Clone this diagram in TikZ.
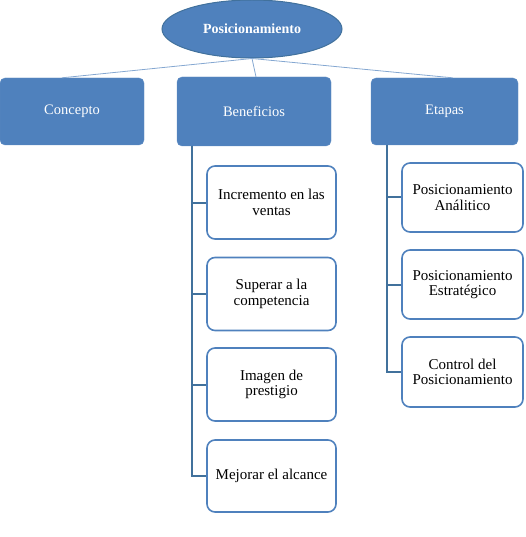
\documentclass[tikz,border=0pt]{standalone}
\usepackage{fontspec}
\setmainfont{Liberation Serif}
\usetikzlibrary{shapes.geometric}
\definecolor{officeblue}{HTML}{4F81BD}
\definecolor{trunkblue}{HTML}{41719C}

\begin{document}
\begin{tikzpicture}[x=1pt,y=-1pt,
 every node/.style={font=\fontsize{14.5}{15.5}\selectfont,align=center},
 head/.style={ellipse,draw=trunkblue,line width=1pt,fill=officeblue,text=white,minimum width=180,minimum height=58,font=\fontsize{14}{15}\selectfont\bfseries},
 topbox/.style={draw=officeblue!90!white,fill=officeblue,text=white,rounded corners=5pt,minimum height=67},
 sub/.style={draw=officeblue,line width=1.6pt,fill=white,rounded corners=8pt,minimum height=71,font=\fontsize{15}{15.5}\selectfont},
 link/.style={draw=officeblue!70!white,line width=0.8pt},
 trunk/.style={draw=trunkblue,line width=2pt}]
\useasboundingbox (0,0) rectangle (526,537);
\node[head] (pos) at (252,29) {Posicionamiento};
\node[topbox,minimum width=144] (con) at (72,111.5) {Concepto};
\node[topbox,minimum width=154,minimum height=69] (ben) at (254,111.5) {Beneficios};
\node[topbox,minimum width=147] (eta) at (444.5,111.5) {Etapas};
% beneficios
\node[sub,minimum width=129,minimum height=73] (ventas) at (271.5,202.5) {Incremento en las\\ventas};
\node[sub,minimum width=129,minimum height=73] (compet) at (271.5,294) {Superar a la\\competencia};
\node[sub,minimum width=129,minimum height=73] (imagen) at (271.5,384.5) {Imagen de\\prestigio};
\node[sub,minimum width=129,minimum height=72] (alcance) at (271.5,476) {Mejorar el alcance};
% etapas
\node[sub,minimum width=121,minimum height=69] (anal) at (462.5,197.5) {Posicionamiento\\Análitico};
\node[sub,minimum width=121,minimum height=69] (estr) at (462.5,284.5) {Posicionamiento\\Estratégico};
\node[sub,minimum width=121,minimum height=70] (ctrl) at (462.5,372) {Control del\\Posicionamiento};
\coordinate (benTrunk) at (192,146);
\coordinate (etaTrunk) at (387,145);
\draw[link] (pos.south) -- ([xshift=-10]con.north);
\draw[link] (pos.south) -- ([xshift=2]ben.north);
\draw[link] (pos.south) -- ([xshift=8]eta.north);
\foreach \b in {ventas,compet,imagen,alcance}
  \draw[trunk] (benTrunk) |- (\b.west);
\foreach \e in {anal,estr,ctrl}
  \draw[trunk] (etaTrunk) |- (\e.west);
\end{tikzpicture}
\end{document}
